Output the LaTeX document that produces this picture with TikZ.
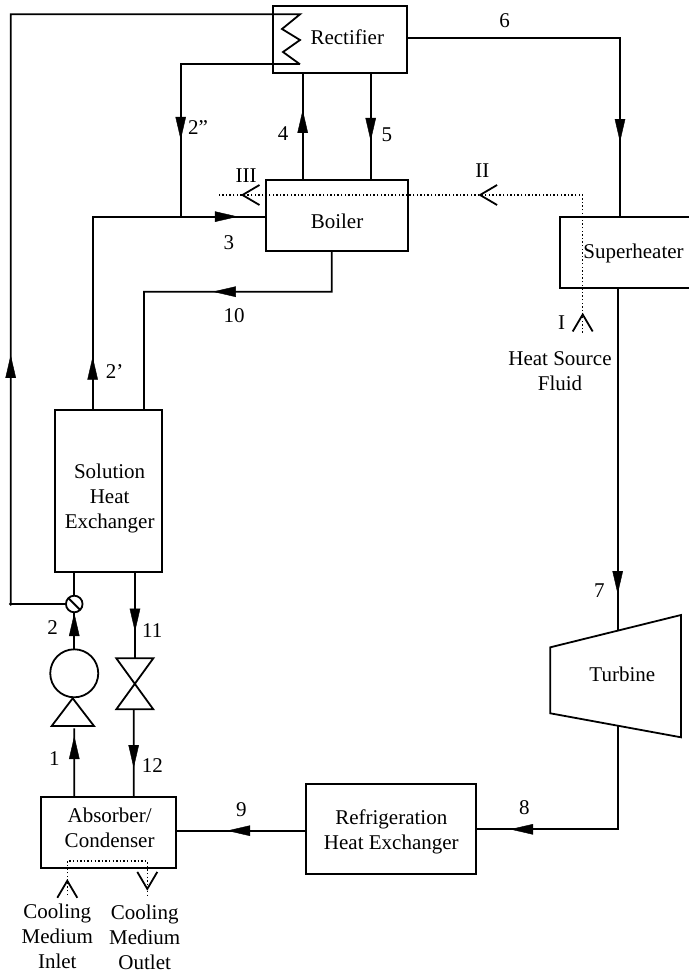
\documentclass[tikz,border=0pt]{standalone}
\usepackage{fontspec}
\setmainfont{Liberation Serif}
\usepackage{tikz}
\usetikzlibrary{arrows.meta,positioning,decorations.markings}

\begin{document}
\begin{tikzpicture}[
  x=1pt, y=-1pt,
  font=\fontsize{21}{25}\selectfont,
  box/.style={draw, line width=1.8pt, inner sep=0pt, outer sep=0pt, align=center},
  txt/.style={inner sep=0pt, outer sep=0pt, align=center},
  num/.style={inner sep=0pt, outer sep=0pt},
  flow/.style={line width=1.8pt},
  heat/.style={line width=1.2pt, dash pattern=on 1.4pt off 2.2pt},
  flowat/.style={postaction={decorate, decoration={markings, mark=at position #1 with {\arrow{Triangle[length=23pt, width=10.5pt, line width=0.4pt]}}}}},
  heatat/.style={postaction={decorate, decoration={markings, mark=at position #1 with {\arrow{Straight Barb[length=17pt, width=20pt, line width=1.8pt]}}}}}
]
\useasboundingbox (0,0) rectangle (688,977);
% equipment
\node[box, minimum width=134pt, minimum height=66.7pt, label={[txt, xshift=7pt, yshift=1.6pt]center:Rectifier}] (rectifier) at (340.3,39.3) {};
\node[box, minimum width=142pt, minimum height=71pt, below=107.3pt of rectifier, xshift=-3.3pt, label={[txt, yshift=-5.5pt]center:Boiler}] (boiler) {};
\node[box, minimum width=147pt, minimum height=71.3pt, right=152pt of boiler, yshift=-36.9pt, text height=17pt] (superheater) {Superheater};
\node[box, minimum width=170pt, minimum height=90pt, label={[txt, yshift=-2.2pt]center:{Refrigeration\\Heat Exchanger}}] (refhx) at (391.3,829.3) {};
\node[box, minimum width=135.3pt, minimum height=71pt, left=130pt of refhx, yshift=-3.5pt, label={[txt, xshift=1pt, yshift=5.3pt]center:{Absorber/\\Condenser}}] (absorber) {};
\node[box, minimum width=107pt, minimum height=161.4pt, above=225.6pt of absorber, xshift=-0.2pt, label={[txt, xshift=1.2pt, yshift=-7.2pt]center:{Solution\\Heat\\Exchanger}}] (shx) {};
\node[box, circle, minimum size=48pt, above=100pt of absorber, xshift=-34.4pt] (pump) {};
\node[box, circle, minimum size=16.6pt, above=37pt of pump] (valve) {};
\draw[flow] (valve.north west) -- (valve.south east);
\draw[flow, line join=miter] (72.7,698.3) -- (51.7,726) -- (94,726) -- cycle;
\draw[flow, line join=miter] (116.3,658.3) -- (153.3,658.3) -- (116.3,709.3) -- (153.3,709.3) -- cycle;
% turbine
\coordinate (turbinein) at (617.7,630.7);
\coordinate (turbineout) at (617.7,725.7);
\draw[flow] (550.3,647.3) -- (681,615) -- (681,737.3) -- (550.3,713.3) -- cycle;
\node[txt] (turbine) at (622.3,674.3) {Turbine};
% main circuit
\coordinate (leftturn) at (10.7,604);
\coordinate (coila) at (300,14.3);
\coordinate (coilb) at (282,29);
\coordinate (coilc) at (300,40);
\coordinate (coild) at (283,52);
\coordinate (coile) at (300,64.3);
\coordinate (join) at (180.7,216.7);
\coordinate (tenbend) at (144,291.7);
\coordinate (pumpin) at (74.3,728.3);
\coordinate (valvein) at (135,658.3);
\coordinate (valveout) at (133.7,709.3);
\draw[flow, flowat=317pt] ([yshift=1.6pt]rectifier.east) -| node[pos=.229, above=10pt, num]{6} ([xshift=-13.5pt]superheater.north);
\draw[flow, flowat=306pt] ([xshift=-15.8pt]superheater.south) -- node[pos=.883, left=13pt, num]{7} (turbinein);
\draw[flow, flowat=211.3pt] (turbineout) |- node[pos=.83, above=15pt, num]{8} (refhx.east);
\draw[flow, flowat=79.3pt] ([yshift=-1.4pt]refhx.west) -- node[above=14pt, num]{9} ([yshift=2.1pt]absorber.east);
\draw[flow, flowat=61.3pt] ([xshift=-34.4pt]absorber.north) -- node[pos=.555, left=14.7pt, num]{1} (pumpin);
\draw[flow, flowat=36.3pt] (pump.north) -- node[pos=.59, left=16.3pt, num]{2} (valve.south);
\draw[flow] ([xshift=-34.2pt]shx.south) -- (valve.north);
\draw[flow, flowat=60pt] ([xshift=26.5pt]shx.south) -- node[pos=.681, right=7.2pt, num]{11} (valvein);
\draw[flow, flowat=58.7pt] (valveout) -- node[pos=.644, right=8.1pt, num]{12} ([xshift=25pt]absorber.north);
\draw[flow, flowat=53.6pt, flowat=338.9pt] ([xshift=-15.8pt]shx.north) |- node[pos=.099, right=13.3pt, num]{2’} node[pos=.893, below=18.9pt, num]{3} ([yshift=-1.2pt]boiler.west);
\draw[flow, flowat=159.7pt] ([xshift=-5.3pt]boiler.south) |- node[pos=.76, below=17.3pt, num]{10} (tenbend) -- ([xshift=35.5pt]shx.north);
\draw[flow, flowat=70pt] ([xshift=-34.3pt]boiler.north) -- node[pos=.43, left=14.4pt, num]{4} ([xshift=-37.6pt]rectifier.south);
\draw[flow, flowat=68.3pt] ([xshift=30.4pt]rectifier.south) -- node[pos=.58, right=11pt, num]{5} ([xshift=33.7pt]boiler.north);
\draw[flow, flowat=304.3pt] (valve.west) -- (leftturn) |- (coila) -- (coilb) -- (coilc) -- (coild) -- (coile);
\fill (leftturn) circle (1.8);
\draw[flow, flowat=194.8pt] (coile) -| node[pos=.709, right=7.3pt, num]{2”} (join);
% heat source and cooling medium
\coordinate (heatin) at (582.7,332.7);
\coordinate (heatturn) at (582.7,195);
\coordinate (heatout) at (219.3,195);
\draw[heat, heatat=20pt, heatat=242.1pt, heatat=479.7pt] (heatin) -- node[pos=.075, left=17.5pt, num]{I} (heatturn) -- node[pos=.276, above=18pt, num]{II} node[pos=.926, above=13pt, num]{III} (heatout);
\node[txt, below=18.6pt of heatin, xshift=-22.7pt] (heatsource) {Heat Source\\Fluid};
\coordinate (coolin) at (67.3,895);
\coordinate (coolout) at (147.3,895);
\draw[heat, heatat=16pt, heatat=143.7pt] (coolin) -- (67.3,861) -- (147.3,861) -- (coolout);
\node[txt, below=9pt of coolin, xshift=-10pt] (coolinlet) {Cooling\\Medium\\Inlet};
\node[txt, below=10pt of coolout, xshift=-2.6pt] (cooloutlet) {Cooling\\Medium\\Outlet};
\end{tikzpicture}
\end{document}
